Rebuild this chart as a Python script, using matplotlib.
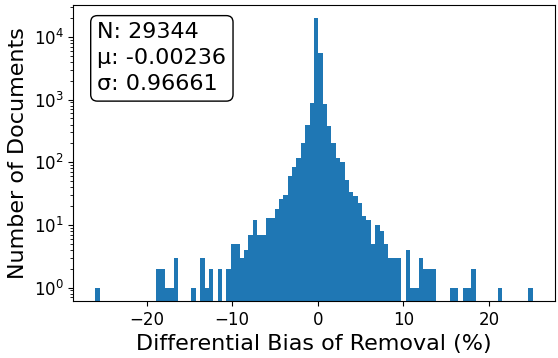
import numpy as np
import matplotlib
matplotlib.use("Agg")
import matplotlib.pyplot as plt

# Histogram: 100 equal bins between data min and max
bin_min = -26.0
bin_max = 25.1
counts = [
    1, 0, 0, 0, 0, 0, 0, 0, 0, 0,
    0, 0, 0, 0, 2, 2, 1, 1, 3, 0,
    0, 0, 1, 0, 3, 1, 2, 0, 2, 0,
    2, 5, 5, 3, 4, 7, 12, 7, 7, 13,
    13, 18, 26, 30, 60, 83, 116, 205, 391, 879,
    20090, 5480, 848, 377, 202, 116, 100, 52, 33, 29,
    22, 14, 12, 5, 10, 8, 5, 3, 3, 3,
    0, 4, 1, 1, 3, 2, 2, 2, 0, 0,
    0, 1, 1, 0, 1, 1, 2, 0, 0, 0,
    0, 0, 1, 0, 0, 0, 0, 0, 0, 1,
]
stats_text = "N: 29344\nμ: -0.00236\nσ: 0.96661"
xlabel = "Differential Bias of Removal (%)"
ylabel = "Number of Documents"

edges = np.linspace(bin_min, bin_max, len(counts) + 1)

fig = plt.figure(figsize=(5.58, 3.58), dpi=100)
ax = fig.add_axes([73.3 / 558, 57 / 358, 481.2 / 558, 296.5 / 358])
ax.hist(edges[:-1], bins=edges, weights=counts, log=True, color="#1f77b4")

ax.set_xlabel(xlabel, fontsize=16)
ax.set_ylabel(ylabel, fontsize=16)
ax.tick_params(axis="both", which="major", labelsize=12)

ax.text(0.05, 0.94, stats_text, transform=ax.transAxes, fontsize=16,
        va="top", ha="left", linespacing=1.38,
        bbox=dict(boxstyle="round", facecolor="white", edgecolor="black"))

fig.savefig("out.png", dpi=100)
